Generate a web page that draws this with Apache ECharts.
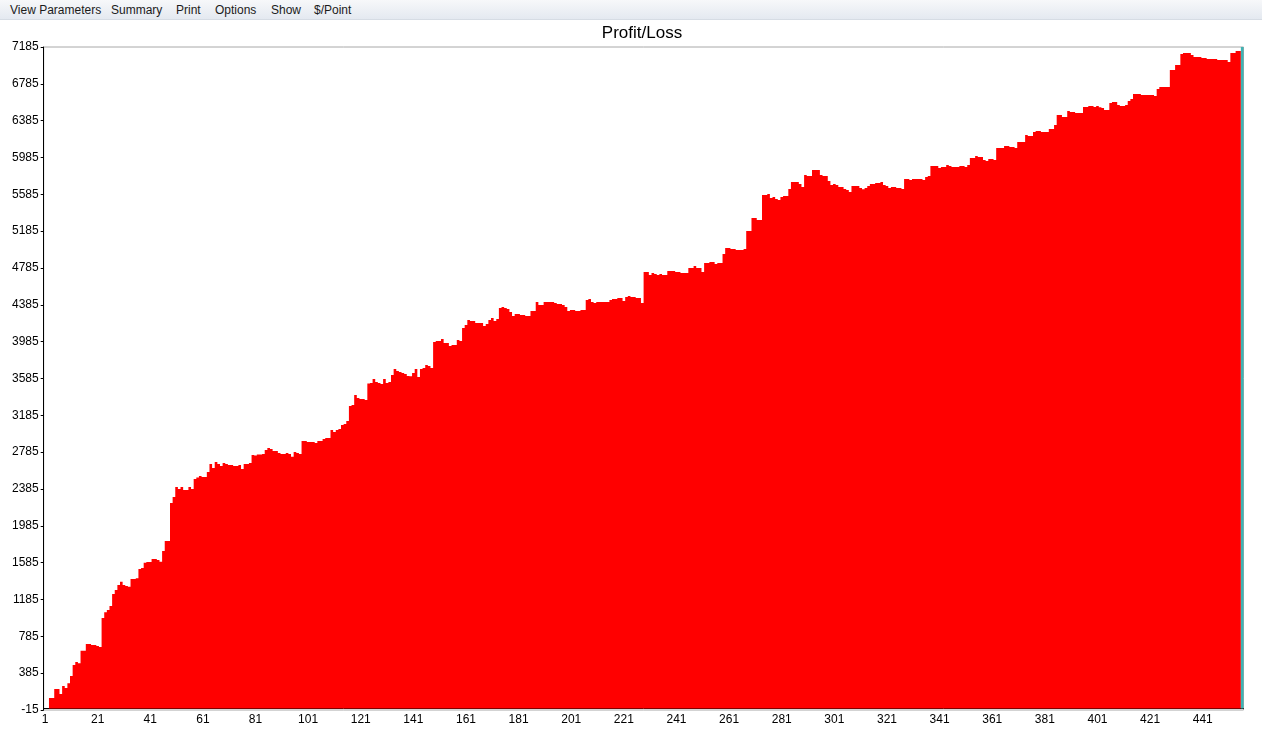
<!DOCTYPE html>
<html>
<head>
<meta charset="utf-8">
<title>Profit/Loss</title>
<script src="https://cdn.jsdelivr.net/npm/echarts@6/dist/echarts.min.js"></script>
<style>
  html, body { margin: 0; padding: 0; background: #fff; width: 1262px; height: 739px; overflow: hidden; }
  #menu {
    position: absolute; left: 0; top: 0; width: 1262px; height: 19px;
    background: linear-gradient(#f7f8fa, #e4e9f0);
    border-bottom: 1px solid #d6dce4;
    font: 12px "Liberation Sans", Arial, sans-serif; color: #1b1b1b;
  }
  #menu span { position: absolute; top: 3px; white-space: nowrap; }
  #chart { position: absolute; left: 0; top: 20px; width: 1262px; height: 719px; }
</style>
</head>
<body>
<div id="menu"></div>
<div id="chart"></div>
<script>
// menu entries across the top of the window
const menuItems = ['View Parameters', 'Summary', 'Print', 'Options', 'Show', '$/Point'];
const menuLeft = [10, 111, 176, 215, 271, 314];

// y axis: -15 .. 7185 by 400
const yMin = -15;
const yMax = 7185;
const yStep = 400;

// cumulative profit/loss per trade
const profitLoss = [
  0, 0, 115, 115, 213, 213, 159, 246, 224, 275,
  354, 474, 506, 492, 629, 629, 702, 702, 691, 691,
  680, 669, 984, 1046, 1071, 1115, 1245, 1288, 1342, 1378,
  1342, 1332, 1324, 1408, 1408, 1415, 1516, 1527, 1585, 1592,
  1592, 1625, 1625, 1614, 1596, 1712, 1820, 1820, 2233, 2298,
  2407, 2385, 2407, 2374, 2374, 2407, 2385, 2494, 2510, 2526,
  2515, 2515, 2570, 2657, 2613, 2678, 2657, 2635, 2668, 2657,
  2646, 2646, 2635, 2635, 2646, 2602, 2657, 2657, 2668, 2755,
  2748, 2759, 2759, 2766, 2809, 2831, 2820, 2798, 2798, 2777,
  2766, 2766, 2777, 2766, 2736, 2787, 2777, 2766, 2907, 2907,
  2896, 2896, 2896, 2885, 2907, 2907, 2928, 2939, 2939, 3026,
  3004, 3026, 3037, 3080, 3091, 3124, 3287, 3298, 3406, 3374,
  3363, 3363, 3352, 3530, 3537, 3580, 3547, 3537, 3526, 3580,
  3537, 3547, 3623, 3689, 3667, 3656, 3645, 3634, 3613, 3610,
  3645, 3689, 3602, 3689, 3700, 3732, 3721, 3700, 3982, 3993,
  3993, 4015, 3971, 3971, 3938, 3949, 3949, 4004, 3993, 4134,
  4166, 4221, 4210, 4210, 4188, 4188, 4188, 4156, 4177, 4220,
  4242, 4210, 4232, 4351, 4362, 4351, 4340, 4308, 4264, 4286,
  4286, 4275, 4275, 4264, 4264, 4318, 4318, 4416, 4384, 4384,
  4416, 4416, 4416, 4416, 4405, 4394, 4394, 4384, 4362, 4318,
  4330, 4330, 4318, 4318, 4330, 4330, 4438, 4449, 4416, 4405,
  4416, 4416, 4416, 4416, 4416, 4438, 4449, 4449, 4460, 4460,
  4427, 4470, 4481, 4470, 4470, 4460, 4460, 4405, 4742, 4742,
  4710, 4731, 4720, 4710, 4720, 4710, 4710, 4753, 4753, 4753,
  4742, 4742, 4731, 4731, 4731, 4786, 4786, 4807, 4786, 4786,
  4742, 4840, 4840, 4851, 4851, 4829, 4840, 4840, 4938, 5003,
  5003, 4992, 4992, 4981, 4981, 4980, 4992, 5187, 5187, 5329,
  5329, 5307, 5307, 5578, 5578, 5589, 5546, 5557, 5535, 5524,
  5557, 5568, 5568, 5644, 5720, 5720, 5720, 5698, 5665, 5796,
  5785, 5785, 5850, 5850, 5850, 5796, 5785, 5785, 5730, 5687,
  5698, 5687, 5665, 5665, 5644, 5633, 5611, 5676, 5676, 5676,
  5655, 5640, 5655, 5676, 5698, 5698, 5709, 5709, 5720, 5687,
  5676, 5655, 5665, 5665, 5655, 5655, 5644, 5752, 5752, 5741,
  5752, 5752, 5752, 5752, 5741, 5774, 5785, 5893, 5893, 5893,
  5872, 5883, 5883, 5904, 5893, 5883, 5883, 5883, 5893, 5893,
  5883, 5904, 5980, 5980, 6002, 5991, 5991, 5958, 5948, 5969,
  5969, 5958, 6089, 6089, 6089, 6111, 6111, 6100, 6100, 6089,
  6154, 6154, 6154, 6230, 6219, 6219, 6263, 6274, 6274, 6263,
  6263, 6263, 6295, 6295, 6339, 6447, 6447, 6426, 6426, 6491,
  6480, 6480, 6469, 6469, 6469, 6534, 6534, 6545, 6545, 6534,
  6545, 6530, 6523, 6502, 6502, 6578, 6589, 6589, 6556, 6545,
  6545, 6556, 6599, 6621, 6675, 6675, 6675, 6665, 6665, 6665,
  6665, 6665, 6654, 6730, 6751, 6751, 6751, 6751, 6936, 6936,
  6990, 6990, 7110, 7121, 7121, 7121, 7099, 7077, 7077, 7077,
  7066, 7066, 7056, 7056, 7056, 7056, 7045, 7045, 7045, 7045,
  7023, 7121, 7121, 7142, 7142
];

// the highlighted (cursor) trade at the right end
const cursorValue = 7185;

// trade numbers 1..n on the x axis
const tradeNumbers = profitLoss.concat([cursorValue]).map((v, i) => String(i + 1));

const menu = document.getElementById('menu');
menuItems.forEach((name, i) => {
  const s = document.createElement('span');
  s.textContent = name;
  s.style.left = menuLeft[i] + 'px';
  menu.appendChild(s);
});

const FONT = '"Liberation Sans", Arial, sans-serif';
const RED = '#ff0000';
const CURSOR = '#3fb3b3';

const mainData = profitLoss.concat(['-']);
const cursorData = profitLoss.map(() => '-').concat([cursorValue]);

const chart = echarts.init(document.getElementById('chart'));
chart.setOption({
  animation: false,
  backgroundColor: '#fff',
  title: {
    text: 'Profit/Loss',
    left: 637,
    textAlign: 'center',
    top: 0,
    textStyle: { fontFamily: FONT, fontSize: 17, fontWeight: 'normal', color: '#000' }
  },
  grid: {
    left: 43.7,
    right: 18.5,
    top: 27,
    bottom: 29,
    show: true,
    borderColor: '#a8a8a8',
    borderWidth: 1,
    backgroundColor: 'transparent'
  },
  xAxis: {
    type: 'category',
    data: tradeNumbers,
    axisLine: { lineStyle: { color: '#000', width: 1 } },
    axisTick: { interval: 19, alignWithLabel: true, length: 3, lineStyle: { color: '#000' } },
    axisLabel: { interval: 19, color: '#000', fontFamily: FONT, fontSize: 12, margin: 4 },
    splitLine: { show: false }
  },
  yAxis: {
    type: 'value',
    min: yMin,
    max: yMax,
    interval: yStep,
    axisLine: { show: true, lineStyle: { color: '#000', width: 1 } },
    axisTick: { show: true, length: 3, lineStyle: { color: '#000' } },
    axisLabel: { color: '#000', fontFamily: FONT, fontSize: 12, margin: 5, formatter: v => String(v) },
    splitLine: { show: false }
  },
  series: [
    {
      name: 'Profit/Loss',
      type: 'bar',
      data: mainData,
      large: true,
      largeThreshold: 50,
      barCategoryGap: '0%',
      barGap: '-100%',
      itemStyle: { color: RED }
    },
    {
      name: 'Cursor',
      type: 'bar',
      data: cursorData,
      barCategoryGap: '0%',
      barGap: '-100%',
      itemStyle: { color: CURSOR }
    }
  ]
});
</script>
</body>
</html>
